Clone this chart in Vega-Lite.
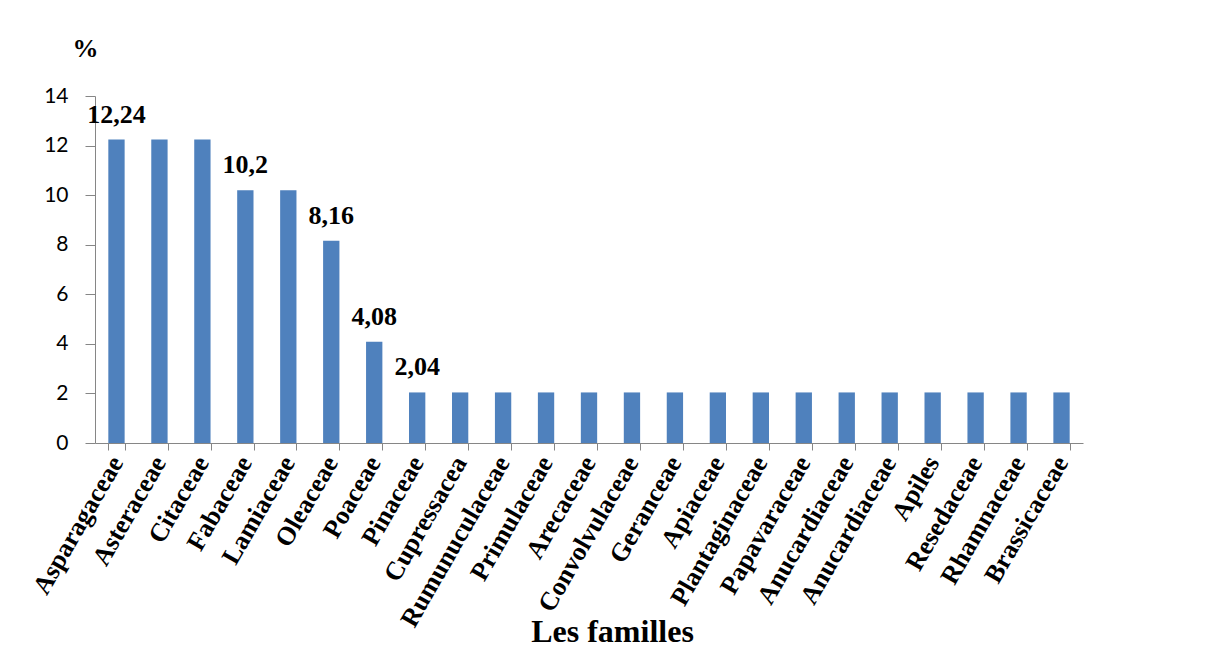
{
  "$schema": "https://vega.github.io/schema/vega-lite/v6.json",
  "autosize": "none",
  "width": 988,
  "height": 347,
  "padding": {"left": 95, "top": 96, "right": 123, "bottom": 207},
  "background": "white",
  "config": {"view": {"stroke": null}},
  "data": {
    "values": [
      {"famille": "Asparagaceae", "pct": 12.24, "etiquette": "12,24"},
      {"famille": "Asteraceae", "pct": 12.24, "etiquette": ""},
      {"famille": "Citaceae", "pct": 12.24, "etiquette": ""},
      {"famille": "Fabaceae", "pct": 10.2, "etiquette": "10,2"},
      {"famille": "Lamiaceae", "pct": 10.2, "etiquette": ""},
      {"famille": "Oleaceae", "pct": 8.16, "etiquette": "8,16"},
      {"famille": "Poaceae", "pct": 4.08, "etiquette": "4,08"},
      {"famille": "Pinaceae", "pct": 2.04, "etiquette": "2,04"},
      {"famille": "Cupressacea", "pct": 2.04, "etiquette": ""},
      {"famille": "Rumunuculaceae", "pct": 2.04, "etiquette": ""},
      {"famille": "Primulaceae", "pct": 2.04, "etiquette": ""},
      {"famille": "Arecaceae", "pct": 2.04, "etiquette": ""},
      {"famille": "Convolvulaceae", "pct": 2.04, "etiquette": ""},
      {"famille": "Geranceae", "pct": 2.04, "etiquette": ""},
      {"famille": "Apiaceae", "pct": 2.04, "etiquette": ""},
      {"famille": "Plantaginaceae", "pct": 2.04, "etiquette": ""},
      {"famille": "Papavaraceae", "pct": 2.04, "etiquette": ""},
      {"famille": "Anucardiaceae", "pct": 2.04, "etiquette": ""},
      {"famille": "Anucardiaceae#2", "pct": 2.04, "etiquette": ""},
      {"famille": "Apiles", "pct": 2.04, "etiquette": ""},
      {"famille": "Resedaceae", "pct": 2.04, "etiquette": ""},
      {"famille": "Rhamnaceae", "pct": 2.04, "etiquette": ""},
      {"famille": "Brassicaceae", "pct": 2.04, "etiquette": ""}
    ]
  },
  "encoding": {
    "x": {
      "field": "famille",
      "type": "nominal",
      "sort": null,
      "scale": {"paddingInner": 0.62, "paddingOuter": 0.31},
      "axis": {
        "title": "Les familles",
        "titleFont": "Liberation Serif",
        "titleFontWeight": "bold",
        "titleFontSize": 32,
        "titleColor": "black",
        "titleX": 517,
        "titleY": 198,
        "titleBaseline": "alphabetic",
        "titleAlign": "center",
        "labelExpr": "replace(datum.label, '#2', '')",
        "labelAngle": -60,
        "labelAlign": "right",
        "labelBaseline": "middle",
        "labelFont": "Liberation Serif",
        "labelFontWeight": "bold",
        "labelFontSize": 26,
        "labelColor": "black",
        "labelPadding": 8,
        "labelLimit": 400,
        "labelOverlap": false,
        "labelBound": false,
        "tickBand": "extent",
        "tickSize": 7,
        "tickColor": "#868686",
        "domainColor": "#868686",
        "grid": false
      }
    },
    "y": {
      "field": "pct",
      "type": "quantitative",
      "scale": {"domain": [0, 14], "nice": false},
      "axis": {
        "title": "%",
        "titleAngle": 0,
        "titleFont": "Liberation Serif",
        "titleFontWeight": "bold",
        "titleFontSize": 26,
        "titleColor": "black",
        "titleX": -10,
        "titleY": -48,
        "titleAlign": "center",
        "titleBaseline": "middle",
        "values": [0, 2, 4, 6, 8, 10, 12, 14],
        "labelFont": "Lato",
        "labelFontSize": 21,
        "labelColor": "black",
        "labelPadding": 17,
        "tickSize": 10,
        "tickColor": "#868686",
        "domainColor": "#868686",
        "grid": false
      }
    }
  },
  "layer": [
    {"mark": {"type": "bar", "color": "#4F81BD"}},
    {
      "mark": {
        "type": "text",
        "font": "Liberation Serif",
        "fontWeight": "bold",
        "fontSize": 26,
        "color": "black",
        "baseline": "alphabetic",
        "align": "center",
        "dy": -17
      },
      "encoding": {"text": {"field": "etiquette"}}
    }
  ]
}
